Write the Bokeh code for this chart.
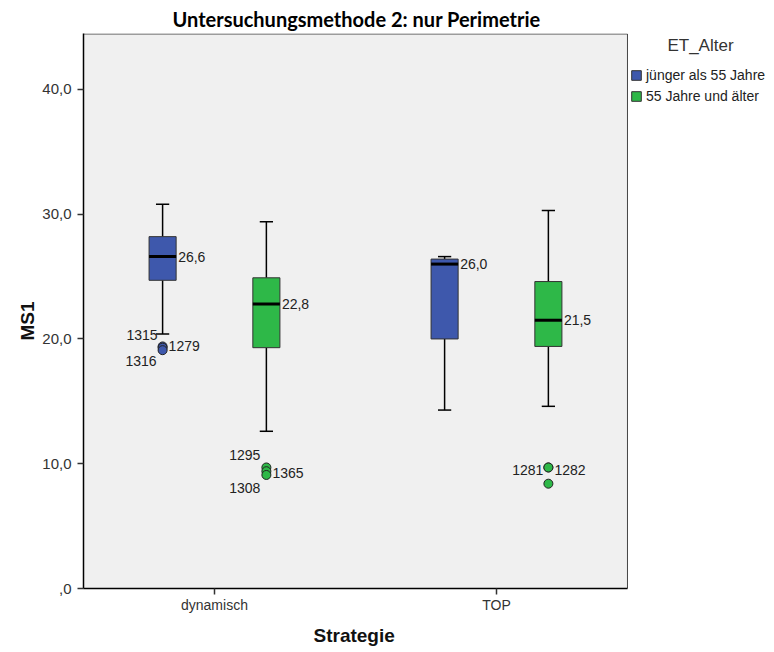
from bokeh.plotting import figure
from bokeh.models import Range1d, FixedTicker, ColumnDataSource, Legend, LegendItem, Label, Title
from bokeh.core.properties import value
from bokeh.embed import file_html
from bokeh.resources import INLINE

# Categories and groups
strategies = ["dynamisch", "TOP"]
groups = ["jünger als 55 Jahre", "55 Jahre und älter"]
group_colors = ["#3E58AC", "#2EB848"]

# Box statistics per strategy (dynamisch, TOP)
young_low = [20.4, 14.3]
young_q1 = [24.7, 20.0]
young_median = [26.6, 26.0]
young_q3 = [28.2, 26.4]
young_high = [30.8, 26.6]

old_low = [12.6, 14.6]
old_q1 = [19.3, 19.4]
old_median = [22.8, 21.5]
old_q3 = [24.9, 24.6]
old_high = [29.4, 30.3]

# Outliers with their case numbers
outlier_strategy = ["dynamisch", "dynamisch", "dynamisch", "dynamisch", "dynamisch", "dynamisch", "TOP", "TOP", "TOP"]
outlier_group = [0, 0, 0, 1, 1, 1, 1, 1, 1]
outlier_value = [19.4, 19.3, 19.1, 9.7, 9.4, 9.1, 9.7, 9.7, 8.4]
outlier_case = ["1315", "1279", "1316", "1295", "1365", "1308", "1281", "1282", ""]

# Y axis ticks
y_ticks = [0, 10, 20, 30, 40]
y_tick_labels = [",0", "10,0", "20,0", "30,0", "40,0"]

# Axis extents of the plot area
X_START, X_END = 0.5355, 2.4645
Y_START, Y_END = 0.0, 44.48
PX_PER_X = 282.0          # pixels per strategy step
FRAME_W = 774 - 83        # frame runs to the right edge; legend sits in it

# Layout of the dodged boxes (in x units, one unit per strategy)
GROUP_OFFSET = [-0.184, 0.184]
BOX_W = 0.096
CAP_W = 0.047
# Placement of case-number labels around each outlier: (align, dx, dy) in px
CASE_LABEL_STYLE = [("right", -5, -11), ("left", 6, -2), ("right", -6, 11),
                    ("right", -6, -12), ("left", 6, 2), ("right", -6, 13),
                    ("right", -5, 3), ("left", 6, 3), ("left", 6, 0)]

FONT = "Liberation Sans"

p = figure(width=774, height=652, output_backend="svg", toolbar_location=None,
           x_range=Range1d(X_START, X_START + FRAME_W / PX_PER_X), y_range=Range1d(Y_START, Y_END),
           min_border_left=83, min_border_right=0, min_border_top=33, min_border_bottom=63)
p.background_fill_color = "white"
p.border_fill_color = "white"
p.outline_line_color = None
p.xgrid.visible = False
p.ygrid.visible = False

# grey plot area with its frame
p.quad(left=[X_START], right=[X_END], bottom=[Y_START], top=[Y_END - 0.04],
       fill_color="#F0F0F0", line_color="#444444", line_width=1, level="underlay")

p.title.text = "Untersuchungsmethode 2: nur Perimetrie"
p.title.align = "left"
p.title.offset = 89
p.title.text_font = "Lato"
p.title.text_font_style = "bold"
p.title.text_font_size = "20px"
p.title.text_color = "black"
p.title.standoff = 5

stats = [
    (young_low, young_q1, young_median, young_q3, young_high),
    (old_low, old_q1, old_median, old_q3, old_high),
]

box_renderers = []
for g, (lo, q1, med, q3, hi) in enumerate(stats):
    xs = [i + 1 + GROUP_OFFSET[g] for i in range(len(strategies))]
    src = ColumnDataSource(dict(
        x=xs, lo=lo, q1=q1, med=med, q3=q3, hi=hi,
        x0=[x - BOX_W / 2 for x in xs], x1=[x + BOX_W / 2 for x in xs],
        c0=[x - CAP_W / 2 for x in xs], c1=[x + CAP_W / 2 for x in xs],
        label=[f"{m:.1f}".replace(".", ",") for m in med],
    ))
    # whiskers
    p.segment(x0="x", y0="q3", x1="x", y1="hi", source=src, line_color="black", line_width=1.5)
    p.segment(x0="x", y0="q1", x1="x", y1="lo", source=src, line_color="black", line_width=1.5)
    p.segment(x0="c0", y0="hi", x1="c1", y1="hi", source=src, line_color="black", line_width=1.5)
    p.segment(x0="c0", y0="lo", x1="c1", y1="lo", source=src, line_color="black", line_width=1.5)
    # box
    r = p.vbar(x="x", width=BOX_W, bottom="q1", top="q3", source=src,
               fill_color=group_colors[g], line_color="#333333", line_width=1)
    box_renderers.append(r)
    # median
    p.segment(x0="x0", y0="med", x1="x1", y1="med", source=src, line_color="black", line_width=3)
    p.text(x="x1", y="med", text="label", source=src, x_offset=2,
           text_align="left", text_baseline="middle",
           text_font=value(FONT), text_font_size="14px", text_color="#222222")

# outliers
ox = [strategies.index(s) + 1 + GROUP_OFFSET[g] for s, g in zip(outlier_strategy, outlier_group)]
osrc = ColumnDataSource(dict(x=ox, y=outlier_value,
                             color=[group_colors[g] for g in outlier_group]))
p.scatter(x="x", y="y", source=osrc, size=9, fill_color="color", line_color="#222222", line_width=1)
for x, y, case, (align, dx, dy) in zip(ox, outlier_value, outlier_case, CASE_LABEL_STYLE):
    if case:
        p.text(x=[x], y=[y], text=[case], x_offset=dx, y_offset=dy,
               text_align=align, text_baseline="middle",
               text_font=value(FONT), text_font_size="14px", text_color="#222222")

# axes
p.yaxis.ticker = FixedTicker(ticks=y_ticks)
p.yaxis.major_label_overrides = {t: l for t, l in zip(y_ticks, y_tick_labels)}
p.xaxis.ticker = FixedTicker(ticks=[i + 1 for i in range(len(strategies))])
p.xaxis.major_label_overrides = {i + 1: s for i, s in enumerate(strategies)}
p.xaxis.bounds = (X_START, X_END)
for ax in (p.xaxis, p.yaxis):
    ax.axis_line_color = "black"
    ax.axis_line_width = 1.5
    ax.major_tick_line_color = "#333333"
    ax.major_tick_line_width = 1.5
    ax.major_tick_out = 6
    ax.major_tick_in = 0
    ax.minor_tick_line_color = None
    ax.major_label_text_font = FONT
    ax.major_label_text_font_size = "14px"
    ax.major_label_text_color = "#333333"
p.yaxis.major_label_text_font_size = "15px"
p.yaxis.major_label_standoff = 6
p.xaxis.major_label_standoff = 2

# axis titles
p.add_layout(Title(text="MS1", align="left", offset=248, standoff=4,
                   text_font=FONT, text_font_style="bold", text_font_size="19px",
                   text_color="#111111"), "left")
p.add_layout(Title(text="Strategie", align="left", offset=230, standoff=14,
                   text_font=FONT, text_font_style="bold", text_font_size="19px",
                   text_color="#111111"), "below")

# legend to the right of the plot area
legend = Legend(items=[LegendItem(label=gname, renderers=[r]) for gname, r in zip(groups, box_renderers)],
                location=(547, 484), orientation="vertical",
                padding=0, margin=0, spacing=5, glyph_width=12, glyph_height=12,
                label_standoff=4, label_height=12,
                label_text_font=FONT, label_text_font_size="14px", label_text_color="#222222",
                background_fill_alpha=0, border_line_color=None)
p.add_layout(legend)
p.add_layout(Label(x=617, y=543, x_units="screen", y_units="screen", text="ET_Alter",
                   text_align="center", text_baseline="middle",
                   text_font=FONT, text_font_size="17px", text_color="#333333"))

open("out.html", "w").write(file_html(p, INLINE))
